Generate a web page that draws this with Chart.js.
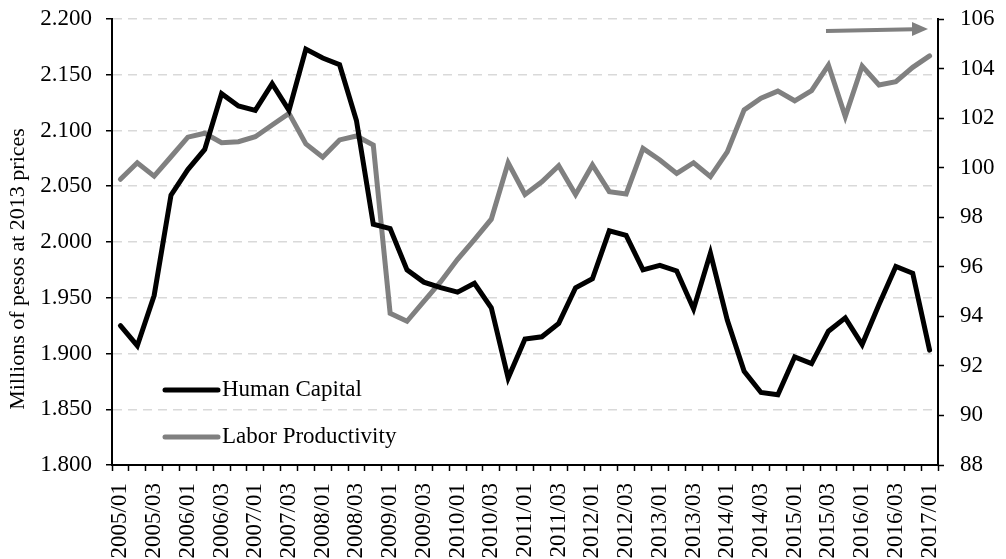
<!DOCTYPE html>
<html>
<head>
<meta charset="utf-8">
<script src="https://cdn.jsdelivr.net/npm/chart.js@4/dist/chart.umd.min.js"></script>
<style>
html,body{margin:0;padding:0;background:#fff;}
#wrap{width:1006px;height:559px;}
</style>
</head>
<body>
<div id="wrap"><canvas id="c" width="1006" height="559"></canvas></div>
<script>
const quarters = [
 "2005/01","2005/02","2005/03","2005/04",
 "2006/01","2006/02","2006/03","2006/04",
 "2007/01","2007/02","2007/03","2007/04",
 "2008/01","2008/02","2008/03","2008/04",
 "2009/01","2009/02","2009/03","2009/04",
 "2010/01","2010/02","2010/03","2010/04",
 "2011/01","2011/02","2011/03","2011/04",
 "2012/01","2012/02","2012/03","2012/04",
 "2013/01","2013/02","2013/03","2013/04",
 "2014/01","2014/02","2014/03","2014/04",
 "2015/01","2015/02","2015/03","2015/04",
 "2016/01","2016/02","2016/03","2016/04",
 "2017/01"
];
const humanCapital = [
 1.925, 1.907, 1.952, 2.042, 2.065, 2.083, 2.133, 2.122, 2.118, 2.142,
 2.118, 2.173, 2.165, 2.159, 2.109, 2.016, 2.012, 1.975, 1.964, 1.959,
 1.955, 1.963, 1.941, 1.878, 1.913, 1.915, 1.927, 1.959, 1.967, 2.010,
 2.006, 1.975, 1.979, 1.974, 1.940, 1.990, 1.930, 1.884, 1.865, 1.863,
 1.897, 1.891, 1.920, 1.932, 1.908, 1.944, 1.978, 1.972, 1.903
];
const laborProductivity = [
 99.53, 100.20, 99.66, 100.44, 101.23, 101.39, 101.01, 101.05, 101.25, 101.72,
 102.19, 100.96, 100.42, 101.12, 101.28, 100.91, 94.12, 93.80, 94.60, 95.40,
 96.30, 97.10, 97.92, 100.20, 98.92, 99.43, 100.08, 98.92, 100.11, 99.03,
 98.94, 100.78, 100.31, 99.77, 100.20, 99.64, 100.64, 102.33, 102.80, 103.09,
 102.70, 103.11, 104.14, 102.06, 104.10, 103.34, 103.47, 104.05, 104.51
];
const seriesNames = ["Human Capital", "Labor Productivity"];
const leftAxisTitle = "Millions of pesos at 2013 prices";

const FONT = "'Liberation Serif', 'Times New Roman', serif";

const legendPlugin = {
  id: 'innerLegend',
  afterDraw(chart) {
    const ctx = chart.ctx;
    const a = chart.chartArea;
    const items = chart.data.datasets;
    const x0 = a.left + 53, x1 = a.left + 106;
    const ys = [a.top + 371, a.top + 418];
    ctx.save();
    items.forEach((ds, i) => {
      ctx.strokeStyle = ds.borderColor;
      ctx.lineWidth = 5;
      ctx.lineCap = 'round';
      ctx.beginPath();
      ctx.moveTo(x0, ys[i]);
      ctx.lineTo(x1, ys[i]);
      ctx.stroke();
      ctx.fillStyle = '#000';
      ctx.font = "23px " + FONT;
      ctx.textBaseline = 'middle';
      ctx.textAlign = 'left';
      ctx.fillText(ds.label, x1 + 4, ys[i]);
    });
    // left axis title
    ctx.save();
    ctx.translate(18, a.top + 250);
    ctx.rotate(-Math.PI / 2);
    ctx.textAlign = 'center';
    ctx.textBaseline = 'middle';
    ctx.fillStyle = '#000';
    ctx.font = "22px " + FONT;
    ctx.fillText(leftAxisTitle, 0, 0);
    ctx.restore();
    // arrow pointing to right axis
    const ax0 = a.left + 714, ax1 = a.right - 10, ay0 = a.top + 12, ay1 = a.top + 10;
    ctx.strokeStyle = '#808080';
    ctx.fillStyle = '#808080';
    ctx.lineWidth = 4;
    ctx.lineCap = 'butt';
    ctx.beginPath();
    ctx.moveTo(ax0, ay0);
    ctx.lineTo(ax1 - 14, ay1 + 0.3);
    ctx.stroke();
    ctx.beginPath();
    ctx.moveTo(ax1, ay1);
    ctx.lineTo(ax1 - 16, ay1 - 7);
    ctx.lineTo(ax1 - 16, ay1 + 7);
    ctx.closePath();
    ctx.fill();
    ctx.restore();
  }
};

function noVPad(scale) { scale.paddingTop = 0; scale.paddingBottom = 0; }

new Chart(document.getElementById('c'), {
  type: 'line',
  data: {
    labels: quarters,
    datasets: [
      {
        label: seriesNames[0],
        data: humanCapital,
        yAxisID: 'y',
        borderColor: '#000000',
        borderWidth: 5,
        pointRadius: 0,
        tension: 0,
        fill: false,
        borderJoinStyle: 'miter',
        borderCapStyle: 'round'
      },
      {
        label: seriesNames[1],
        data: laborProductivity,
        yAxisID: 'y2',
        borderColor: '#808080',
        borderWidth: 5,
        pointRadius: 0,
        tension: 0,
        fill: false,
        borderJoinStyle: 'miter',
        borderCapStyle: 'round'
      }
    ]
  },
  options: {
    responsive: false,
    animation: false,
    devicePixelRatio: 1,
    layout: { padding: { top: 19, left: 0, right: 0, bottom: 0 } },
    plugins: {
      legend: { display: false },
      tooltip: { enabled: false },
      title: { display: false }
    },
    scales: {
      x: {
        type: 'category',
        offset: true,
        grid: {
          display: true,
          drawOnChartArea: false,
          offset: true,
          tickLength: 6,
          tickColor: '#000',
          tickWidth: 1.5,
          color: '#000'
        },
        border: { display: true, color: '#000', width: 2 },
        ticks: {
          autoSkip: false,
          maxRotation: 90,
          minRotation: 90,
          padding: 12,
          color: '#000',
          font: { family: FONT, size: 23 },
          callback: function(val, idx) { return idx % 2 === 0 ? this.getLabelForValue(val) : ''; }
        },
        afterFit(scale) { scale.height = 94; scale.paddingLeft = 0; scale.paddingRight = 0; }
      },
      y: {
        position: 'left',
        min: 1.8,
        max: 2.2,
        grid: {
          color: '#d9d9d9',
          lineWidth: 1.5,
          tickLength: 6,
          tickColor: '#000',
          tickWidth: 1.5,
          drawTicks: true
        },
        border: { display: true, color: '#000', width: 2, dash: [9, 6] },
        ticks: {
          stepSize: 0.05,
          padding: 14,
          color: '#000',
          font: { family: FONT, size: 23 },
          callback: (v) => v.toFixed(3)
        },
        title: { display: false },
        afterFit(scale) { scale.width = 112; noVPad(scale); }
      },
      y2: {
        position: 'right',
        min: 88,
        max: 106,
        grid: {
          drawOnChartArea: false,
          tickLength: 6,
          tickColor: '#000',
          tickWidth: 1.5,
          color: '#000'
        },
        border: { display: true, color: '#000', width: 2 },
        ticks: {
          stepSize: 2,
          padding: 16,
          color: '#000',
          font: { family: FONT, size: 23 }
        },
        afterFit(scale) { scale.width = 68; noVPad(scale); }
      }
    }
  },
  plugins: [legendPlugin]
});
</script>
</body>
</html>
